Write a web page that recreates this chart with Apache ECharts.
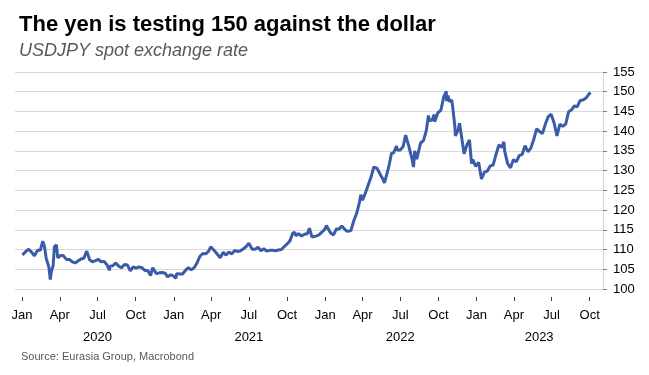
<!DOCTYPE html>
<html>
<head>
<meta charset="utf-8">
<script src="https://cdn.jsdelivr.net/npm/echarts@6/dist/echarts.min.js"></script>
<style>
  html, body { margin: 0; padding: 0; background: #fff; }
  #main { width: 649px; height: 375px; }
</style>
</head>
<body>
<div id="main"></div>
<script>
// USDJPY spot, approximate closes
let dates = [
    '2020-01-02','2020-01-03','2020-01-10','2020-01-17','2020-01-24','2020-01-31',
    '2020-02-07','2020-02-14','2020-02-20','2020-02-24','2020-02-28',
    '2020-03-06','2020-03-09','2020-03-12','2020-03-16','2020-03-19','2020-03-24','2020-03-27','2020-03-31',
    '2020-04-03','2020-04-09','2020-04-17','2020-04-24','2020-05-01','2020-05-08','2020-05-15','2020-05-22','2020-05-29',
    '2020-06-05','2020-06-12','2020-06-19','2020-06-26','2020-07-03','2020-07-10','2020-07-17','2020-07-24','2020-07-30','2020-07-31',
    '2020-08-07','2020-08-14','2020-08-21','2020-08-28','2020-09-04','2020-09-11','2020-09-18','2020-09-25',
    '2020-10-02','2020-10-09','2020-10-16','2020-10-23','2020-10-30','2020-11-06','2020-11-11','2020-11-20','2020-11-27',
    '2020-12-04','2020-12-11','2020-12-17','2020-12-25','2020-12-31',
    '2021-01-06','2021-01-08','2021-01-15','2021-01-22','2021-01-29','2021-02-05','2021-02-12','2021-02-19','2021-02-26',
    '2021-03-05','2021-03-12','2021-03-19','2021-03-26','2021-03-31','2021-04-09','2021-04-16','2021-04-23','2021-04-30',
    '2021-05-07','2021-05-14','2021-05-21','2021-05-28','2021-06-04','2021-06-11','2021-06-18','2021-06-25','2021-07-01',
    '2021-07-09','2021-07-16','2021-07-23','2021-07-30','2021-08-06','2021-08-13','2021-08-20','2021-08-27',
    '2021-09-03','2021-09-10','2021-09-17','2021-09-24','2021-09-30','2021-10-08','2021-10-15','2021-10-20','2021-10-22','2021-10-29',
    '2021-11-05','2021-11-12','2021-11-19','2021-11-24','2021-11-30','2021-12-03','2021-12-10','2021-12-17','2021-12-24','2021-12-31',
    '2022-01-04','2022-01-07','2022-01-14','2022-01-21','2022-01-28','2022-02-04','2022-02-10','2022-02-18','2022-02-24',
    '2022-03-04','2022-03-11','2022-03-18','2022-03-25','2022-03-28','2022-04-01','2022-04-08','2022-04-15','2022-04-20','2022-04-22','2022-04-28',
    '2022-05-06','2022-05-09','2022-05-13','2022-05-20','2022-05-24','2022-05-27','2022-06-03','2022-06-10','2022-06-15','2022-06-17','2022-06-22','2022-06-24',
    '2022-07-01','2022-07-08','2022-07-14','2022-07-22','2022-07-29','2022-08-02','2022-08-05','2022-08-10','2022-08-12','2022-08-19','2022-08-26',
    '2022-09-02','2022-09-07','2022-09-09','2022-09-16','2022-09-21','2022-09-22','2022-09-30',
    '2022-10-07','2022-10-14','2022-10-20','2022-10-21','2022-10-24','2022-10-28','2022-11-02','2022-11-04','2022-11-10','2022-11-11','2022-11-18','2022-11-21','2022-11-25',
    '2022-12-02','2022-12-09','2022-12-15','2022-12-20','2022-12-23','2022-12-30',
    '2023-01-06','2023-01-13','2023-01-16','2023-01-20','2023-01-27','2023-02-03','2023-02-10','2023-02-17','2023-02-24',
    '2023-03-03','2023-03-08','2023-03-10','2023-03-17','2023-03-24','2023-03-31','2023-04-07','2023-04-14','2023-04-21','2023-04-28',
    '2023-05-05','2023-05-12','2023-05-19','2023-05-26','2023-06-02','2023-06-09','2023-06-16','2023-06-23','2023-06-30',
    '2023-07-07','2023-07-14','2023-07-21','2023-07-28','2023-08-04','2023-08-11','2023-08-18','2023-08-25',
    '2023-09-01','2023-09-08','2023-09-15','2023-09-22','2023-09-29','2023-10-03'
];
let usdjpy = [
    108.6,108.1,109.5,110.1,109.3,108.4,
    109.8,109.8,112.1,110.8,107.9,
    105.4,102.4,104.6,105.9,110.7,111.2,107.9,107.5,
    108.5,108.5,107.5,107.5,106.9,106.6,107.1,107.6,107.8,
    109.6,107.4,106.9,107.2,107.5,106.9,107.0,106.1,104.7,105.8,
    105.9,106.6,105.8,105.4,106.2,106.1,104.6,105.6,
    105.3,105.6,105.4,104.7,104.7,103.4,105.4,103.9,104.1,
    104.2,104.0,103.1,103.6,103.3,
    102.7,103.9,103.8,103.8,104.7,105.4,104.9,105.4,106.6,
    108.3,109.0,108.9,109.6,110.7,109.7,108.8,107.9,109.3,
    108.6,109.4,108.9,109.8,109.5,109.7,110.2,110.8,111.6,
    110.1,110.1,110.6,109.7,110.2,109.6,109.8,109.8,
    109.7,109.9,110.0,110.7,111.3,112.2,114.2,114.3,113.5,114.0,
    113.4,113.9,114.0,115.4,113.2,112.8,113.4,113.7,114.4,115.1,
    116.1,115.6,114.2,113.7,115.2,115.2,116.0,115.0,114.6,
    114.8,117.3,119.2,122.1,123.9,122.5,124.3,126.4,127.9,128.5,130.9,
    130.6,130.3,129.2,127.9,126.9,127.1,130.8,134.4,134.5,135.0,136.2,135.2,
    135.2,136.1,139.0,136.1,133.2,130.9,135.0,132.9,133.4,137.0,137.6,
    140.2,144.0,142.6,142.9,144.2,142.4,144.7,
    145.3,148.7,150.1,147.6,149.0,147.5,147.9,146.6,141.0,138.8,140.4,142.0,139.2,
    134.3,136.6,137.8,131.8,132.8,131.1,
    132.1,127.9,128.2,129.6,129.9,131.2,131.4,134.1,136.5,
    135.9,137.3,134.9,131.8,130.7,132.8,132.2,133.8,134.1,136.3,
    134.8,135.7,137.9,140.6,139.9,139.4,141.8,143.7,144.3,
    142.1,138.8,141.8,141.2,141.8,144.9,145.4,146.4,
    146.2,147.8,147.9,148.4,149.4,149.8
];
let quarterTicks = [
    '2020-01-01','2020-04-01','2020-07-01','2020-10-01','2021-01-01','2021-04-01','2021-07-01','2021-10-01',
    '2022-01-01','2022-04-01','2022-07-01','2022-10-01','2023-01-01','2023-04-01','2023-07-01','2023-10-01'
];
let monthNames = ['Jan','Feb','Mar','Apr','May','Jun','Jul','Aug','Sep','Oct','Nov','Dec'];
let yearLabelDates = ['2020-07-01','2021-07-01','2022-07-01','2023-06-01'];

let axisMin = '2019-12-15';
let axisMax = '2023-11-02';

function ts(d) {
    return new Date(d + 'T00:00:00Z').getTime();
}

function makeChart() {
    let myChart = echarts.init(document.getElementById('main'));
    let seriesData = [];
    for (let i = 0; i < dates.length; i = i + 1) {
        seriesData.push([ts(dates[i]), usdjpy[i]]);
    }
    let qt = quarterTicks.map(ts);

    let option = {
        animation: false,
        title: [
            {
                text: 'The yen is testing 150 against the dollar',
                left: 14, top: 9,
                textStyle: { fontFamily: 'Arial', fontWeight: 'bold', fontSize: 22, color: '#000' }
            },
            {
                text: 'USDJPY spot exchange rate',
                left: 14, top: 37,
                textStyle: { fontFamily: 'Arial', fontStyle: 'italic', fontWeight: 'normal', fontSize: 18, color: '#595959' }
            },
            {
                text: 'Source: Eurasia Group, Macrobond',
                left: 16, top: 346,
                textStyle: { fontFamily: 'Arial', fontWeight: 'normal', fontSize: 11, color: '#595959' }
            }
        ],
        grid: { left: 15, right: 46, top: 72, bottom: 86 },
        xAxis: [
            {
                // dates as timestamps on a value axis so quarter ticks can be placed exactly
                type: 'value',
                min: ts(axisMin),
                max: ts(axisMax),
                offset: 8,
                axisLine: { show: false },
                axisTick: { show: true, length: 4, customValues: qt, lineStyle: { color: '#404040' } },
                axisLabel: {
                    customValues: qt,
                    margin: 12,
                    fontFamily: 'Arial', fontSize: 13, color: '#000',
                    formatter: function (v) { return monthNames[new Date(v).getUTCMonth()]; }
                },
                splitLine: { show: false }
            },
            {
                type: 'value',
                min: ts(axisMin),
                max: ts(axisMax),
                position: 'bottom',
                offset: 8,
                axisLine: { show: false },
                axisTick: { show: false },
                axisLabel: {
                    customValues: yearLabelDates.map(ts),
                    margin: 34,
                    fontFamily: 'Arial', fontSize: 13, color: '#000',
                    formatter: function (v) { return String(new Date(v).getUTCFullYear()); }
                },
                splitLine: { show: false }
            }
        ],
        yAxis: {
            type: 'value',
            position: 'right',
            min: 100, max: 155, interval: 5,
            axisLine: { show: true, lineStyle: { color: '#d9d9d9' } },
            axisTick: { show: true, length: 4, lineStyle: { color: '#7f7f7f' } },
            axisLabel: { margin: 10, fontFamily: 'Arial', fontSize: 13, color: '#000' },
            splitLine: { lineStyle: { color: '#d9d9d9' } }
        },
        series: [
            {
                type: 'line',
                xAxisIndex: 0,
                data: seriesData,
                showSymbol: false,
                lineStyle: { color: '#3a5ba8', width: 3 }
            }
        ]
    };

    myChart.setOption(option);
}

makeChart();
</script>
</body>
</html>
